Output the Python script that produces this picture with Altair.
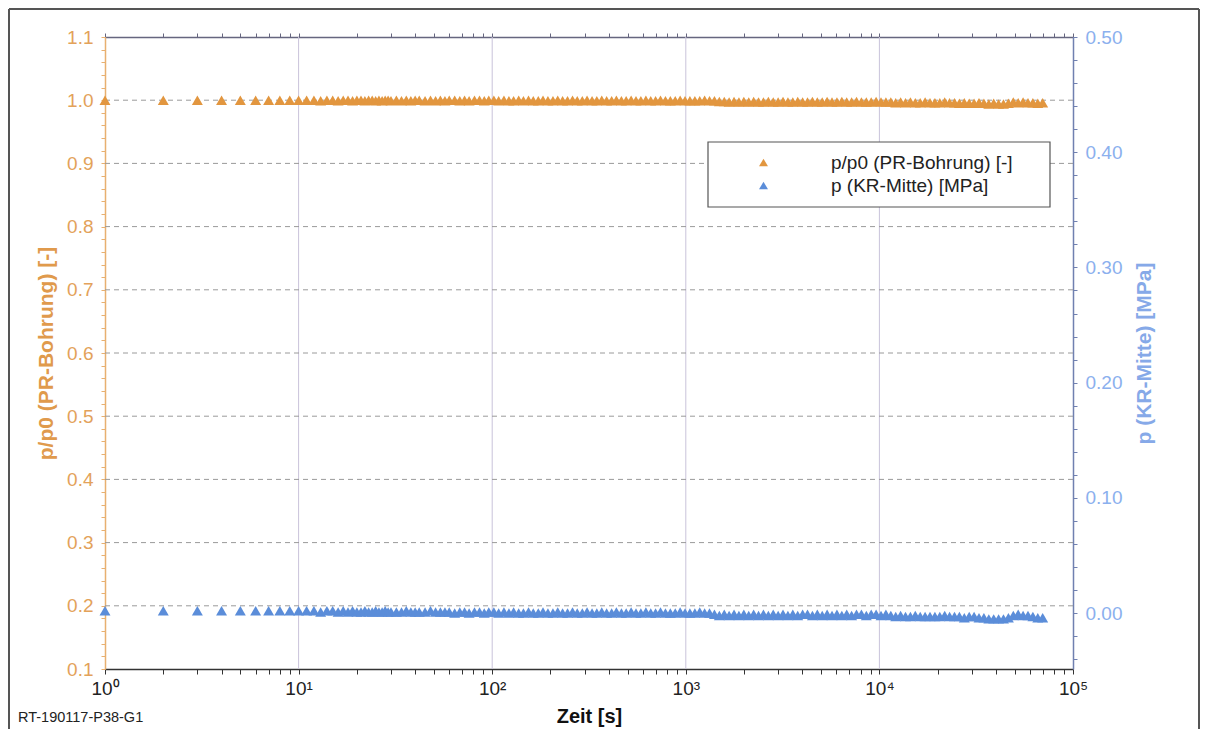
import altair as alt
import pandas as pd

FONT = "Liberation Sans"

series_names = ["p/p0 (PR-Bohrung) [-]", "p (KR-Mitte) [MPa]"]
series_colors = ["#E2963F", "#5B8DD9"]
footer_label = "RT-190117-P38-G1"

time_s = [
    1, 2, 3, 4, 5, 6, 7, 8, 9, 10,
    11, 12, 13, 14, 15, 16, 17, 18, 19, 20,
    21, 22, 23, 24, 25, 26, 27, 28, 29, 30,
    32, 34, 36, 38, 40, 42, 45, 48, 51, 54,
    57, 60, 64, 68, 72, 76, 81, 86, 91, 96,
    102, 108, 115, 122, 129, 137, 145, 154, 163, 173,
    183, 194, 206, 218, 231, 245, 260, 275, 292, 309,
    328, 347, 368, 390, 414, 438, 465, 492, 522, 553,
    586, 622, 659, 698, 740, 785, 832, 882, 935, 991,
    1050, 1114, 1180, 1251, 1326, 1406, 1490, 1580, 1674, 1775,
    1881, 1994, 2114, 2241, 2375, 2518, 2669, 2829, 2999, 3178,
    3369, 3571, 3786, 4013, 4253, 4509, 4779, 5066, 5370, 5692,
    6034, 6396, 6779, 7186, 7617, 8074, 8559, 9072, 9617, 10194,
    10805, 11454, 12141, 12869, 13641, 14460, 15328, 16247, 17222, 18255,
    19351, 20512, 21742, 23047, 24430, 25896, 27449, 29096, 30842, 32693,
    34654, 36733, 38937, 41274, 43750, 46375, 49158, 52107, 55234, 58548,
    62061, 65784, 69731,
]

pr_bohrung = [
    1.000, 1.000, 1.000, 1.000, 1.000, 1.000, 1.000, 1.000, 1.000, 1.000,
    1.000, 1.000, 0.999, 1.000, 1.000, 0.999, 1.000, 1.000, 0.999, 1.000,
    1.000, 0.999, 1.000, 1.000, 0.999, 1.000, 0.999, 1.000, 1.000, 0.999,
    1.000, 0.999, 1.000, 0.999, 1.000, 1.000, 0.999, 1.000, 0.999, 1.000,
    0.999, 1.000, 1.000, 0.999, 1.000, 0.999, 1.000, 1.000, 0.999, 1.000,
    1.000, 0.999, 1.000, 0.999, 0.999, 1.000, 0.999, 1.000, 0.999, 0.999,
    1.000, 0.999, 0.999, 1.000, 0.999, 0.999, 1.000, 0.999, 0.999, 1.000,
    0.999, 0.999, 1.000, 0.999, 0.999, 1.000, 0.999, 0.999, 1.000, 0.999,
    0.999, 1.000, 0.999, 0.999, 1.000, 0.999, 0.999, 0.999, 1.000, 0.999,
    0.999, 0.999, 0.999, 1.000, 0.999, 0.999, 0.998, 0.998, 0.997, 0.998,
    0.997, 0.998, 0.997, 0.998, 0.997, 0.997, 0.998, 0.997, 0.997, 0.998,
    0.997, 0.997, 0.998, 0.997, 0.997, 0.998, 0.997, 0.997, 0.998, 0.997,
    0.997, 0.998, 0.997, 0.997, 0.998, 0.997, 0.997, 0.997, 0.998, 0.997,
    0.997, 0.997, 0.996, 0.997, 0.996, 0.997, 0.996, 0.996, 0.997, 0.996,
    0.996, 0.996, 0.997, 0.996, 0.996, 0.995, 0.996, 0.995, 0.995, 0.996,
    0.995, 0.994, 0.995, 0.994, 0.994, 0.995, 0.997, 0.996, 0.997, 0.996,
    0.996, 0.995, 0.996,
]

kr_mitte = [
    0.002, 0.002, 0.002, 0.002, 0.002, 0.002, 0.002, 0.002, 0.002, 0.002,
    0.002, 0.002, 0.001, 0.002, 0.002, 0.001, 0.002, 0.001, 0.002, 0.001,
    0.001, 0.002, 0.001, 0.001, 0.002, 0.001, 0.001, 0.002, 0.001, 0.001,
    0.001, 0.001, 0.002, 0.001, 0.001, 0.001, 0.001, 0.002, 0.001, 0.001,
    0.001, 0.001, 0.000, 0.001, 0.001, 0.000, 0.001, 0.001, 0.000, 0.001,
    0.001, 0.000, 0.001, 0.000, 0.001, 0.000, 0.000, 0.001, 0.000, 0.000,
    0.001, 0.000, 0.000, 0.001, 0.000, 0.000, 0.001, 0.000, 0.000, 0.001,
    0.000, 0.000, 0.001, 0.000, 0.000, 0.001, 0.000, 0.000, 0.001, 0.000,
    0.000, 0.001, 0.000, 0.000, 0.001, 0.000, 0.000, 0.000, 0.001, 0.000,
    0.000, 0.000, 0.001, 0.000, 0.000, -0.001, -0.002, -0.001, -0.002, -0.001,
    -0.002, -0.001, -0.002, -0.001, -0.002, -0.001, -0.002, -0.001, -0.002, -0.001,
    -0.002, -0.001, -0.002, -0.001, -0.001, -0.002, -0.001, -0.002, -0.001, -0.002,
    -0.001, -0.002, -0.001, -0.002, -0.001, -0.001, -0.002, -0.001, -0.001, -0.002,
    -0.001, -0.002, -0.003, -0.002, -0.003, -0.003, -0.002, -0.003, -0.003, -0.003,
    -0.003, -0.003, -0.002, -0.003, -0.003, -0.003, -0.004, -0.003, -0.003, -0.004,
    -0.004, -0.005, -0.005, -0.005, -0.005, -0.004, -0.002, -0.001, -0.002, -0.002,
    -0.003, -0.004, -0.004,
]

x_ticks = [
    1, 2, 3, 4, 5, 6, 7, 8, 9,
    10, 20, 30, 40, 50, 60, 70, 80, 90,
    100, 200, 300, 400, 500, 600, 700, 800, 900,
    1000, 2000, 3000, 4000, 5000, 6000, 7000, 8000, 9000,
    10000, 20000, 30000, 40000, 50000, 60000, 70000, 80000, 90000,
    100000,
]
x_grid = [10, 100, 1000, 10000]
left_ticks = [
    0.10, 0.12, 0.14, 0.16, 0.18, 0.20, 0.22, 0.24, 0.26, 0.28,
    0.30, 0.32, 0.34, 0.36, 0.38, 0.40, 0.42, 0.44, 0.46, 0.48,
    0.50, 0.52, 0.54, 0.56, 0.58, 0.60, 0.62, 0.64, 0.66, 0.68,
    0.70, 0.72, 0.74, 0.76, 0.78, 0.80, 0.82, 0.84, 0.86, 0.88,
    0.90, 0.92, 0.94, 0.96, 0.98, 1.00, 1.02, 1.04, 1.06, 1.08, 1.10,
]
left_grid = [0.2, 0.3, 0.4, 0.5, 0.6, 0.7, 0.8, 0.9, 1.0]
right_ticks = [
    -0.04, -0.02, 0.00, 0.02, 0.04, 0.06, 0.08, 0.10, 0.12, 0.14,
    0.16, 0.18, 0.20, 0.22, 0.24, 0.26, 0.28, 0.30, 0.32, 0.34,
    0.36, 0.38, 0.40, 0.42, 0.44, 0.46, 0.48, 0.50,
]

W, H = 968, 632
PAD = {"left": 97, "top": 29, "right": 127, "bottom": 60}

n = len(time_s)
df_pr = pd.DataFrame({"t": time_s, "v": pr_bohrung, "series": [series_names[0]] * n})
df_kr = pd.DataFrame({"t": time_s, "v": kr_mitte, "series": [series_names[1]] * n})

x_scale = alt.Scale(type="log", domain=[1, 100000], nice=False)
yl_scale = alt.Scale(domain=[0.1, 1.1], nice=False, zero=False)
yr_scale = alt.Scale(domain=[-0.0485, 0.5], nice=False, zero=False)
color_scale = alt.Scale(domain=series_names, range=series_colors)

legend = alt.Legend(
    title=None, orient="none", legendX=603, legendY=104,
    fillColor="transparent", strokeColor="transparent", padding=12,
    symbolType="triangle-up", symbolSize=80, symbolOffset=34,
    symbolStrokeWidth=0, labelOffset=58, rowPadding=3,
    labelFont=FONT, labelFontSize=19, labelColor="#222222",
    labelLimit=400,
)

sup_expr = (
    "indexof([1,10,100,1000,10000,100000], datum.value) >= 0 ? "
    "['10\u2070','10\u00b9','10\u00b2','10\u00b3','10\u2074','10\u2075']"
    "[indexof([1,10,100,1000,10000,100000], datum.value)] : ''"
)

x_axis_bottom = alt.Axis(
    orient="bottom", values=x_ticks, labelExpr=sup_expr, grid=False,
    tickSize=5, tickColor="#333333", domainColor="#333333", domainWidth=1.5,
    labelFont=FONT, labelFontSize=19, labelColor="#222222", labelPadding=5,
    labelFlush=False, labelOverlap=False,
    title="Zeit [s]", titleFont=FONT, titleFontSize=20, titleFontWeight="bold",
    titleColor="#111111", titlePadding=8,
)
x_axis_top = alt.Axis(
    orient="top", values=x_ticks, labels=False, grid=False, tickSize=4,
    tickColor="#66667F", domainColor="#66667F", domainWidth=1.5, title=None,
)

y_axis_left = alt.Axis(
    orient="left", values=left_ticks, grid=False,
    labelExpr="abs(datum.value*10 - round(datum.value*10)) < 0.01 ? format(datum.value, '.1f') : ''",
    tickSize=4, tickColor="#E8B070", domainColor="#E8B070", domainWidth=1.5,
    labelFont=FONT, labelFontSize=19, labelColor="#E3A25A", labelPadding=8,
    labelOverlap=False,
    title="p/p0 (PR-Bohrung) [-]", titleFont=FONT, titleFontSize=21,
    titleFontWeight="bold", titleColor="#E09A4C", titlePadding=10,
)
y_axis_right = alt.Axis(
    orient="right", values=right_ticks, grid=False,
    labelExpr="abs(datum.value*10 - round(datum.value*10)) < 0.01 ? format(datum.value, '.2f') : ''",
    tickSize=4, tickColor="#7080B0", domainColor="#7080B0", domainWidth=1.5,
    labelFont=FONT, labelFontSize=19, labelColor="#8BB0EE", labelPadding=8,
    labelOverlap=False,
    title="p (KR-Mitte) [MPa]", titleFont=FONT, titleFontSize=21,
    titleFontWeight="bold", titleColor="#86A9E8", titlePadding=12,
    titleAngle=270, titleBaseline="top",
)

# gridlines
vgrid = alt.Chart(pd.DataFrame({"t": x_grid})).mark_rule(
    color="#C9C3DA", strokeWidth=1
).encode(x=alt.X("t:Q", scale=x_scale, axis=None))

hgrid = alt.Chart(pd.DataFrame({"v": left_grid})).mark_rule(
    color="#9A9A9A", strokeWidth=1, strokeDash=[5, 4]
).encode(y=alt.Y("v:Q", scale=yl_scale, axis=None))

pr_points = alt.Chart(df_pr).mark_point(
    shape="triangle-up", filled=True, size=120, opacity=1
).encode(
    x=alt.X("t:Q", scale=x_scale, axis=x_axis_bottom),
    y=alt.Y("v:Q", scale=yl_scale, axis=y_axis_left),
    color=alt.Color("series:N", scale=color_scale, legend=legend),
)

kr_points = alt.Chart(df_kr).mark_point(
    shape="triangle-up", filled=True, size=120, opacity=1
).encode(
    x=alt.X("t:Q", scale=x_scale, axis=x_axis_top),
    y=alt.Y("v:Q", scale=yr_scale, axis=y_axis_right),
    color=alt.Color("series:N", scale=color_scale, legend=legend),
)

frame_df = pd.DataFrame({"k": [0]})

# legend box (decoration behind the legend entries)
legend_box = alt.Chart(frame_df).mark_rect(
    fill="white", stroke="#555555", strokeWidth=1.2
).encode(
    x=alt.value(603), x2=alt.value(945), y=alt.value(105), y2=alt.value(170)
)

frame_left = alt.Chart(frame_df).mark_rule(color="#555555", strokeWidth=2).encode(
    x=alt.value(-96), y=alt.value(-28), y2=alt.value(H + PAD["bottom"])
)
frame_top = alt.Chart(frame_df).mark_rule(color="#555555", strokeWidth=2).encode(
    x=alt.value(-96), x2=alt.value(W + PAD["right"] - 1), y=alt.value(-28)
)
frame_right = alt.Chart(frame_df).mark_rule(color="#555555", strokeWidth=2).encode(
    x=alt.value(W + PAD["right"] - 1), y=alt.value(-28), y2=alt.value(H + PAD["bottom"])
)

footer = alt.Chart(pd.DataFrame({"label": [footer_label]})).mark_text(
    align="left", baseline="middle", font=FONT, fontSize=14.5, color="#222222"
).encode(x=alt.value(-87), y=alt.value(681), text="label:N")

chart = alt.layer(
    vgrid, hgrid, pr_points, kr_points, legend_box,
    frame_left, frame_top, frame_right, footer
).resolve_scale(
    y="independent"
).resolve_axis(
    x="independent", y="independent"
).properties(
    width=W, height=H,
    padding=PAD,
    autosize=alt.AutoSizeParams(type="none"),
).configure_view(
    stroke="#66667F", strokeWidth=1.5
).configure(background="white")

chart.save("out.html", embed_options={"renderer": "svg", "actions": False})
